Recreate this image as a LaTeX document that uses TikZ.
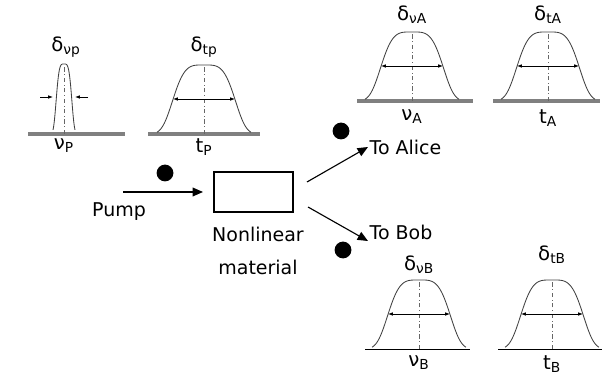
\documentclass[tikz,border=0pt]{standalone}
\usepackage{fontspec}
\setmainfont{DejaVu Sans}
\usetikzlibrary{arrows.meta,positioning}

\begin{document}
\begin{tikzpicture}[x=0.025cm,y=-0.025cm,
  txt/.style={font=\fontsize{13.5}{15}\selectfont,inner sep=1pt},
  sym/.style={font=\fontsize{14}{16}\selectfont,inner sep=1pt},
  curve/.style={draw=black!75,line width=0.6pt},
  axisline/.style={dash dot,black!60,line width=0.4pt},
  topbase/.style={draw=black!50,line width=2.2pt},
  botbase/.style={draw=black,line width=0.6pt},
  arr/.style={-{Triangle[length=2.6mm,width=2.2mm]},line width=0.8pt},
  fwhm/.style={{Latex[length=1.2mm]}-{Latex[length=1.2mm]},line width=0.6pt},
  photon/.style={circle,fill=black,inner sep=0pt,minimum size=4.2mm}
]
  \useasboundingbox (0,0) rectangle (603,379);

  % Pump spectrum (narrow)
  \draw[topbase] (28,134) -- (125,134);
  \draw[curve] plot[domain=-11:11,samples=50,smooth] ({64+\x},{134-70*exp(-(\x*\x/72)^2)});
  \draw[axisline] (64,134) -- (64,66);
  \draw[-{Latex[length=1.2mm]},line width=0.6pt] (40,97) -- (53,97);
  \draw[-{Latex[length=1.2mm]},line width=0.6pt] (88,97) -- (75,97);
  \node[sym] (dnup) at (66,47) {δ\textsubscript{νp}};
  \node[sym] (nup) at (64,146) {ν\textsubscript{P}};

  % Wide spectra and time profiles
  \foreach \cx/\by/\bl/\br/\dy/\ay/\base/\lab/\axis [count=\i] in {
      204/134/56/56/47/147/topbase/{δ\textsubscript{tp}}/{t\textsubscript{P}},
      412/101/55/61/15/117/topbase/{δ\textsubscript{νA}}/{ν\textsubscript{A}},
      548/101/55/52/15/118/topbase/{δ\textsubscript{tA}}/{t\textsubscript{A}},
      419/349/54/51/265/363/botbase/{δ\textsubscript{νB}}/{ν\textsubscript{B}},
      552/349/54/50/255/364/botbase/{δ\textsubscript{tB}}/{t\textsubscript{B}}}{
    \draw[\base] (\cx-\bl,\by) -- (\cx+\br,\by);
    \draw[curve] plot[domain=-47:47,samples=80,smooth] ({\cx+\x},{\by-69*exp(-(\x*\x/1156)^2)});
    \draw[axisline] (\cx,\by) -- (\cx,\by-68);
    \draw[fwhm] (\cx-31,\by-35) -- (\cx+31,\by-35);
    \node[sym] (lab\i) at (\cx,\dy) {\lab};
    \node[sym] (axis\i) at (\cx,\ay) {\axis};
  }

  % Source and outputs
  \node[draw,line width=0.8pt,minimum width=1.975cm,minimum height=1cm] (nl) at (253.5,192) {};
  \node[txt,align=center,font=\fontsize{13.5}{23}\selectfont] (nltext) at (258,251) {Nonlinear\\material};
  \coordinate (pumpin) at (123,192);
  \node[txt] (pump) at (119,212) {Pump};
  \node[txt,anchor=west] (alice) at (368,147) {To Alice};
  \node[txt,anchor=south west] (bob) at (368,241) {To Bob};
  \coordinate (aout) at (307,182);
  \coordinate (bout) at (308,207);

  \draw[arr] (pumpin) -- (203,192);
  \draw[arr] (aout) -- (alice.west);
  \draw[arr] (bout) -- (bob.south west);

  \node[photon] (ph1) at (165,173) {};
  \node[photon] (ph2) at (341,131) {};
  \node[photon] (ph3) at (343,250) {};
\end{tikzpicture}
\end{document}
